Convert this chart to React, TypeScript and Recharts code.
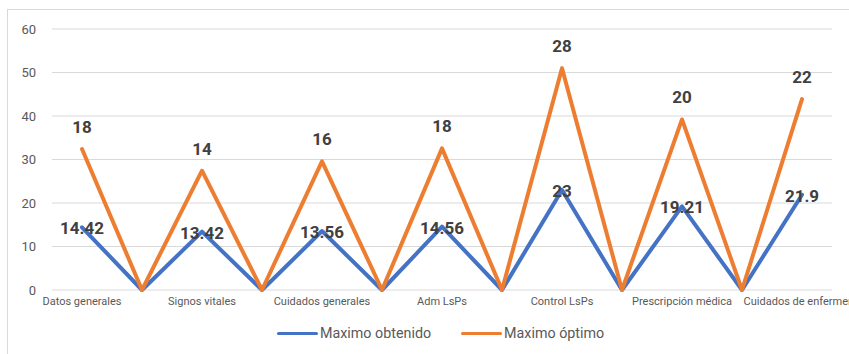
import React from 'react'
import { AreaChart, Area, XAxis, YAxis, CartesianGrid, LabelList } from 'recharts'

const categories = [
  'Datos generales', '', 'Signos vitales', '', 'Cuidados generales', '', 'Adm LsPs', '',
  'Control LsPs', '', 'Prescripción médica', '', 'Cuidados de enfermería',
]
const maximoObtenido = [14.42, 0, 13.42, 0, 13.56, 0, 14.56, 0, 23, 0, 19.21, 0, 21.9]
const maximoOptimo = [18, 0, 14, 0, 16, 0, 18, 0, 28, 0, 20, 0, 22]
const yTicks = [0, 10, 20, 30, 40, 50, 60]

const BLUE = '#4472C4'
const ORANGE = '#ED7D31'
const FONT = 'Roboto, "Liberation Sans", sans-serif'

const data = categories.map((name, i) => ({
  name,
  obtenido: maximoObtenido[i],
  optimo: maximoOptimo[i],
}))

function makeLabel(values: number[], offsetY: number) {
  return function ValueLabel(props: any) {
    const { x, y, index } = props
    const v = values[index]
    if (!v) return null
    return (
      <text
        x={x} y={y + offsetY}
        textAnchor="middle" dominantBaseline="central"
        fontFamily={FONT} fontSize={17} fontWeight={700} fill="#404040"
      >
        {String(v)}
      </text>
    )
  }
}

function LegendItem({ color, label }: { color: string; label: string }) {
  return (
    <div style={{ display: 'flex', alignItems: 'center' }}>
      <div style={{ width: 41, height: 3, background: color, borderRadius: 2 }} />
      <span style={{ marginLeft: 2, fontSize: 14.3, color: '#595959', fontFamily: FONT }}>{label}</span>
    </div>
  )
}

export default function App() {
  return (
    <div style={{ position: 'absolute', left: 0, top: 0, width: 849, height: 354, overflow: 'hidden', background: '#fff' }}>
      <div style={{
        position: 'absolute', left: 7, top: 9, width: 900, height: 400,
        border: '1px solid #d9d9d9',
      }} />
      <div style={{ position: 'absolute', left: 0, top: 0 }}>
        <AreaChart
          width={849} height={354} data={data}
          margin={{ top: 29, right: 17, bottom: 44, left: 0 }}
          style={{ overflow: 'visible' }}
        >
          <CartesianGrid vertical={false} stroke="#d9d9d9" strokeWidth={1} />
          <XAxis
            dataKey="name"
            axisLine={false} tickLine={false} tickSize={0} tickMargin={7}
            height={20} interval={0}
            padding={{ left: 30, right: 30 }}
            tick={{ fontSize: 11, fill: '#595959', fontFamily: FONT }}
          />
          <YAxis
            domain={[0, 60]} ticks={yTicks} width={52}
            axisLine={false} tickLine={false} tickSize={0} tickMargin={16}
            tick={{ fontSize: 13, fill: '#595959', fontFamily: FONT }}
          />
          <Area
            type="linear" dataKey="obtenido" stackId="a"
            stroke={BLUE} strokeWidth={4} fill="none" fillOpacity={0}
            dot={false} activeDot={false} isAnimationActive={false}
            strokeLinejoin="round" strokeLinecap="round"
          >
            <LabelList dataKey="obtenido" content={makeLabel(maximoObtenido, 1)} />
          </Area>
          <Area
            type="linear" dataKey="optimo" stackId="a"
            stroke={ORANGE} strokeWidth={4} fill="none" fillOpacity={0}
            dot={false} activeDot={false} isAnimationActive={false}
            strokeLinejoin="round" strokeLinecap="round"
          >
            <LabelList dataKey="optimo" content={makeLabel(maximoOptimo, -22)} />
          </Area>
        </AreaChart>
      </div>
      <div style={{
        position: 'absolute', top: 324, left: 277, display: 'flex', gap: 30, height: 18, alignItems: 'center',
      }}>
        <LegendItem color={BLUE} label="Maximo obtenido" />
        <LegendItem color={ORANGE} label="Maximo óptimo" />
      </div>
    </div>
  )
}
